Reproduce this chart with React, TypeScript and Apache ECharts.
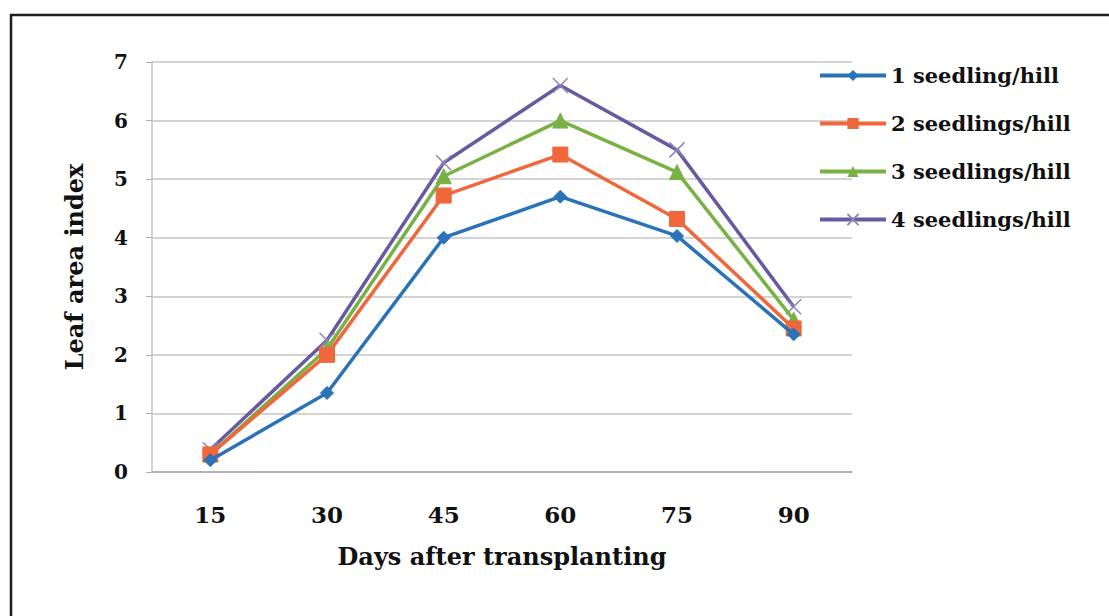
import React, { useEffect, useRef } from "react";
import * as echarts from "echarts";

const categories = ["15", "30", "45", "60", "75", "90"];
const seriesNames = ["1 seedling/hill", "2 seedlings/hill", "3 seedlings/hill", "4 seedlings/hill"];
const s1 = [0.2, 1.35, 4.0, 4.7, 4.03, 2.35];
const s2 = [0.3, 2.0, 4.72, 5.42, 4.32, 2.45];
const s3 = [0.3, 2.1, 5.05, 6.0, 5.12, 2.6];
const s4 = [0.38, 2.25, 5.28, 6.6, 5.5, 2.82];
const colors = ["#2a73b8", "#f0673c", "#78b244", "#675a9e"];
const symbols = ["diamond", "rect", "triangle", "path://M0,0 L10,10 M10,0 L0,10"];
const symbolSizes = [13, 15, 15, 15];

const FONT = "DejaVu Serif";

export default function App() {
  const ref = useRef<HTMLDivElement>(null);
  useEffect(() => {
    document.body.style.margin = "0";
    if (!ref.current) return;
    const chart = echarts.init(ref.current, undefined, { renderer: "svg" });
    const data = [s1, s2, s3, s4];
    chart.setOption({
      animation: false,
      backgroundColor: "#ffffff",
      graphic: [
        {
          type: "rect",
          shape: { x: 11, y: 15, width: 1200, height: 700 },
          style: { fill: "none", stroke: "#1e1e1e", lineWidth: 2.5 },
          z: 100,
        },
      ],
      grid: { left: 152, right: 257, top: 62, bottom: 144 },
      legend: {
        orient: "vertical",
        left: 813,
        top: 60,
        itemWidth: 66,
        itemHeight: 14,
        itemGap: 27,
        lineStyle: { width: 4 },
        textStyle: { fontFamily: FONT, fontWeight: "bold", fontSize: 21, color: "#111" },
        data: seriesNames,
      },
      xAxis: {
        type: "category",
        data: categories,
        boundaryGap: true,
        axisLine: { lineStyle: { color: "#a8a8a8", width: 1.5 } },
        axisTick: { show: false },
        axisLabel: { fontFamily: FONT, fontWeight: "bold", fontSize: 23, color: "#111", margin: 31 },
        name: "Days after transplanting",
        nameLocation: "middle",
        nameGap: 72,
        nameTextStyle: { fontFamily: FONT, fontWeight: "bold", fontSize: 24, color: "#111" },
      },
      yAxis: {
        type: "value",
        min: 0,
        max: 7,
        interval: 1,
        axisLine: { show: true, lineStyle: { color: "#c4c4c4", width: 1.5 } },
        axisTick: { show: true, length: 6, lineStyle: { color: "#b0b0b0" } },
        splitLine: { lineStyle: { color: "#c4c4c4", width: 1.5 } },
        axisLabel: { fontFamily: FONT, fontWeight: "bold", fontSize: 20, color: "#111", margin: 24 },
        name: "Leaf area index",
        nameLocation: "middle",
        nameGap: 66,
        nameTextStyle: { fontFamily: FONT, fontWeight: "bold", fontSize: 24, color: "#111" },
      },
      series: seriesNames.map((n, i) => ({
        name: n,
        type: "line",
        data: data[i],
        symbol: symbols[i],
        symbolSize: symbolSizes[i],
        showSymbol: true,
        z: 10 - i,
        lineStyle: { color: colors[i], width: 3.5 },
        itemStyle:
          i === 3
            ? { color: colors[i], borderColor: "#8f86b8", borderWidth: 1.5 }
            : { color: colors[i], borderColor: colors[i] },
      })),
    });
    return () => chart.dispose();
  }, []);
  return <div ref={ref} style={{ width: 1109, height: 616 }} />;
}
